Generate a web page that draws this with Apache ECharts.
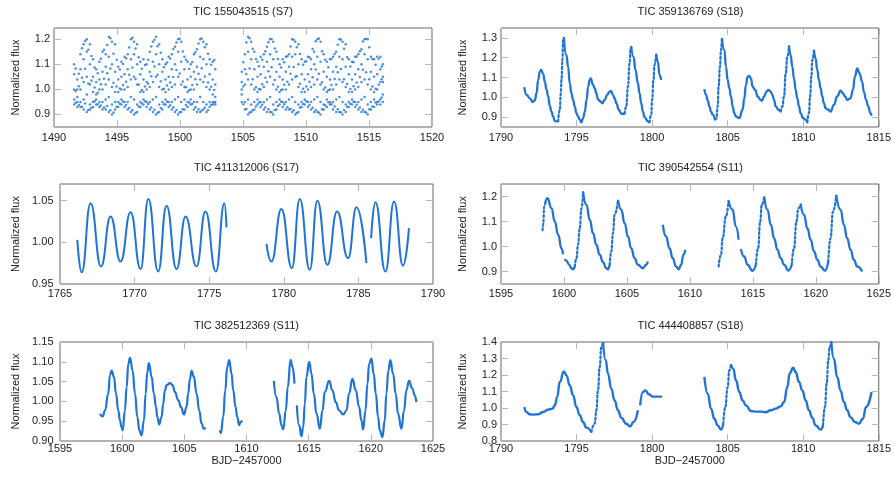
<!DOCTYPE html>
<html><head><meta charset="utf-8">
<script src="https://cdn.jsdelivr.net/npm/echarts@6.0.0/dist/echarts.min.js"></script>
<style>html,body{margin:0;padding:0;background:#fff;}#chart{width:894px;height:478px;}</style>
</head><body><div id="chart"></div>
<script>
// ---------- titles & tick labels ----------
const panelTitles = ['TIC 155043515 (S7)', 'TIC 359136769 (S18)', 'TIC 411312006 (S17)',
  'TIC 390542554 (S11)', 'TIC 382512369 (S11)', 'TIC 444408857 (S18)'];
const yTicks155 = [0.9, 1.0, 1.1, 1.2];
const yTicks359 = [0.9, 1.0, 1.1, 1.2, 1.3];
const yTicks411 = [0.95, 1.00, 1.05];
const yTicks390 = [0.9, 1.0, 1.1, 1.2];
const yTicks382 = [0.90, 0.95, 1.00, 1.05, 1.10, 1.15];
const yTicks444 = [0.8, 0.9, 1.0, 1.1, 1.2, 1.3, 1.4];
const xAxisName = 'BJD\u22122457000';
const yAxisName = 'Normalized flux';

// ---------- TIC 155043515: columns [time, flux, flux, ...] ----------
const tic155043515 = [
[1491.60,1.10,1.06,1.00,0.96,0.94],[1491.85,1.04,1.00,0.97,0.95,0.93],[1492.10,1.14,1.08,1.00,0.95,0.93],
[1492.35,1.18,1.12,1.03,0.96,0.92],[1492.60,1.20,1.15,1.05,0.98,0.91],[1492.85,1.18,1.10,1.02,0.94,0.92],
[1493.10,1.12,1.05,0.99,0.95,0.93],[1493.35,1.08,1.03,0.98,0.96,0.94],[1493.60,1.11,1.04,1.00,0.95,0.93],
[1493.85,1.15,1.07,1.00,0.95,0.92],[1494.10,1.14,1.09,1.02,0.96,0.92],[1494.35,1.21,1.13,1.04,0.97,0.91],
[1494.60,1.19,1.10,1.01,0.94,0.90],[1494.85,1.18,1.07,0.99,0.95,0.92],[1495.10,1.09,1.04,0.99,0.95,0.93],
[1495.35,1.11,1.05,1.00,0.96,0.94],[1495.60,1.13,1.06,1.00,0.95,0.93],[1495.85,1.14,1.08,1.01,0.95,0.92],
[1496.10,1.20,1.12,1.04,0.97,0.91],[1496.35,1.19,1.14,1.05,0.96,0.90],[1496.60,1.18,1.10,1.02,0.94,0.91],
[1496.85,1.11,1.06,0.99,0.95,0.93],[1497.10,1.12,1.04,0.99,0.96,0.94],[1497.35,1.10,1.03,1.00,0.95,0.93],
[1497.60,1.15,1.07,1.01,0.95,0.92],[1497.85,1.19,1.11,1.03,0.96,0.91],[1498.10,1.21,1.14,1.05,0.97,0.90],
[1498.35,1.18,1.10,1.01,0.94,0.91],[1498.60,1.12,1.07,1.00,0.95,0.92],[1498.85,1.10,1.04,0.99,0.96,0.94],
[1499.10,1.13,1.05,1.00,0.95,0.93],[1499.35,1.14,1.08,1.01,0.95,0.92],[1499.60,1.17,1.10,1.02,0.96,0.91],
[1499.85,1.20,1.15,1.05,0.97,0.90],[1500.10,1.19,1.11,1.02,0.95,0.91],[1500.35,1.13,1.08,1.01,0.96,0.92],
[1500.60,1.11,1.04,0.99,0.95,0.93],[1500.85,1.10,1.05,1.00,0.96,0.94],[1501.10,1.14,1.07,1.00,0.95,0.92],
[1501.35,1.16,1.09,1.02,0.95,0.91],[1501.60,1.20,1.13,1.04,0.97,0.91],[1501.85,1.19,1.12,1.03,0.95,0.92],
[1502.10,1.18,1.10,1.01,0.94,0.91],[1502.35,1.12,1.06,1.00,0.95,0.93],[1502.60,1.11,1.04,0.98,0.95,0.94],
[1502.80,1.08,1.02,0.97,0.95,0.94],
[1504.90,1.07,1.03,1.00,0.98,0.95],[1505.15,1.14,1.08,1.02,0.95,0.92],[1505.40,1.21,1.15,1.04,0.96,0.90],
[1505.65,1.19,1.12,1.02,0.94,0.91],[1505.90,1.15,1.08,1.00,0.95,0.92],[1506.15,1.11,1.05,0.99,0.96,0.94],
[1506.40,1.13,1.06,1.00,0.95,0.93],[1506.65,1.14,1.09,1.01,0.95,0.92],[1506.90,1.17,1.11,1.03,0.96,0.91],
[1507.15,1.20,1.14,1.05,0.97,0.91],[1507.40,1.19,1.12,1.02,0.94,0.90],[1507.65,1.15,1.07,1.00,0.95,0.92],
[1507.90,1.10,1.05,0.99,0.96,0.94],[1508.15,1.12,1.04,1.00,0.95,0.93],[1508.40,1.13,1.07,1.00,0.95,0.92],
[1508.65,1.14,1.09,1.02,0.96,0.92],[1508.90,1.20,1.13,1.04,0.97,0.91],[1509.15,1.19,1.14,1.05,0.95,0.90],
[1509.40,1.18,1.10,1.01,0.94,0.91],[1509.65,1.12,1.06,0.99,0.95,0.93],[1509.90,1.11,1.04,0.99,0.96,0.94],
[1510.15,1.13,1.06,1.00,0.95,0.93],[1510.40,1.12,1.08,1.01,0.95,0.92],[1510.65,1.15,1.10,1.02,0.96,0.91],
[1510.90,1.20,1.13,1.04,0.97,0.91],[1511.15,1.19,1.11,1.02,0.95,0.90],[1511.40,1.14,1.07,1.00,0.94,0.92],
[1511.65,1.11,1.05,0.99,0.96,0.93],[1511.90,1.12,1.04,1.00,0.95,0.94],[1512.15,1.13,1.07,1.00,0.95,0.92],
[1512.40,1.15,1.09,1.02,0.96,0.91],[1512.65,1.20,1.13,1.04,0.97,0.91],[1512.90,1.19,1.12,1.03,0.95,0.90],
[1513.15,1.18,1.09,1.01,0.94,0.91],[1513.40,1.12,1.06,0.99,0.95,0.93],[1513.65,1.11,1.04,0.99,0.96,0.94],
[1513.90,1.13,1.06,1.00,0.95,0.93],[1514.15,1.14,1.08,1.01,0.95,0.92],[1514.40,1.16,1.10,1.03,0.96,0.91],
[1514.65,1.20,1.14,1.04,0.97,0.91],[1514.90,1.20,1.12,1.02,0.94,0.90],[1515.15,1.13,1.07,1.00,0.95,0.92],
[1515.40,1.12,1.05,0.99,0.96,0.93],[1515.65,1.13,1.06,1.00,0.95,0.94],[1515.90,1.13,1.08,1.03,0.96,0.94],
[1516.10,1.10,1.05,1.03,0.98,0.95]
];
const tic155043515Mid = [
[1491.72,1.083,0.994,0.947],[1491.97,1.062,1.013,0.938],[1492.22,1.164,1.047,0.931],[1492.47,1.193,1.082,0.944],
[1492.72,1.158,1.024,0.918],[1492.97,1.133,1.036,0.927],[1493.22,1.087,1.008,0.953],[1493.47,1.064,0.987,0.941],
[1493.72,1.122,1.021,0.936],[1493.97,1.158,1.043,0.928],[1494.22,1.177,1.064,0.934],[1494.47,1.204,1.083,0.917],
[1494.72,1.142,1.027,0.908],[1494.97,1.118,1.012,0.931],[1495.22,1.079,1.004,0.943],[1495.47,1.101,1.018,0.952],
[1495.72,1.124,1.031,0.938],[1495.97,1.167,1.058,0.926],[1496.22,1.206,1.087,0.917],[1496.47,1.163,1.042,0.906],
[1496.72,1.128,1.019,0.932],[1496.97,1.082,0.998,0.944],[1497.22,1.097,1.012,0.953],[1497.47,1.118,1.023,0.942],
[1497.72,1.171,1.052,0.928],[1497.97,1.198,1.091,0.919],[1498.22,1.172,1.058,0.907],[1498.47,1.146,1.033,0.926],
[1498.72,1.088,1.003,0.941],[1498.97,1.107,1.016,0.951],[1499.22,1.123,1.028,0.937],[1499.47,1.161,1.049,0.929],
[1499.72,1.187,1.077,0.918],[1499.97,1.202,1.063,0.909],[1500.22,1.151,1.032,0.921],[1500.47,1.118,1.009,0.938],
[1500.72,1.081,0.997,0.948],[1500.97,1.109,1.018,0.942],[1501.22,1.148,1.041,0.929],[1501.47,1.183,1.062,0.921],
[1501.72,1.203,1.084,0.916],[1501.97,1.168,1.051,0.927],[1502.22,1.142,1.028,0.918],[1502.47,1.098,1.011,0.939],
[1502.72,1.117,0.998,0.948],
[1505.02,1.108,1.012,0.941],[1505.27,1.187,1.061,0.922],[1505.52,1.204,1.083,0.908],[1505.77,1.162,1.041,0.917],
[1506.02,1.121,1.009,0.932],[1506.27,1.092,1.002,0.948],[1506.52,1.118,1.021,0.939],[1506.77,1.152,1.047,0.928],
[1507.02,1.188,1.072,0.921],[1507.27,1.201,1.088,0.909],[1507.52,1.163,1.038,0.918],[1507.77,1.121,1.011,0.934],
[1508.02,1.087,0.998,0.951],[1508.27,1.108,1.019,0.941],[1508.52,1.132,1.031,0.929],[1508.77,1.171,1.062,0.922],
[1509.02,1.198,1.089,0.917],[1509.27,1.168,1.052,0.906],[1509.52,1.141,1.023,0.928],[1509.77,1.098,1.003,0.942],
[1510.02,1.112,1.012,0.953],[1510.27,1.128,1.031,0.938],[1510.52,1.161,1.048,0.927],[1510.77,1.192,1.079,0.918],
[1511.02,1.203,1.062,0.908],[1511.27,1.152,1.029,0.921],[1511.52,1.118,1.008,0.937],[1511.77,1.088,0.997,0.949],
[1512.02,1.121,1.018,0.941],[1512.27,1.141,1.042,0.932],[1512.52,1.178,1.068,0.921],[1512.77,1.199,1.081,0.909],
[1513.02,1.162,1.041,0.918],[1513.27,1.128,1.022,0.931],[1513.52,1.091,1.002,0.943],[1513.77,1.108,1.013,0.951],
[1514.02,1.131,1.028,0.939],[1514.27,1.152,1.049,0.928],[1514.52,1.191,1.078,0.919],[1514.77,1.202,1.068,0.908],
[1515.02,1.168,1.041,0.921],[1515.27,1.121,1.012,0.932],[1515.52,1.098,1.003,0.948],[1515.77,1.122,1.019,0.952],
[1516.00,1.091,1.041,0.968]
];

// ---------- TIC 359136769 segments [time, flux] ----------
const tic359136769a = [
[1791.54,1.051],[1791.69,1.012],[1791.91,0.995],[1792.09,0.976],[1792.24,0.985],[1792.35,1.02],[1792.46,1.088],
[1792.57,1.13],[1792.66,1.138],[1792.79,1.118],[1792.90,1.079],[1793.01,1.04],[1793.12,1.004],[1793.23,0.957],
[1793.34,0.928],[1793.45,0.903],[1793.56,0.880],[1793.78,0.878],[1793.89,0.937],[1793.96,1.02],[1794.00,1.088],
[1794.07,1.196],[1794.11,1.288],[1794.16,1.300],[1794.33,1.213],[1794.44,1.154],[1794.55,1.071],[1794.66,1.02],
[1794.77,0.987],[1794.88,0.954],[1794.99,0.92],[1795.10,0.903],[1795.21,0.887],[1795.32,0.873],[1795.43,0.895],
[1795.55,0.928],[1795.66,0.987],[1795.77,1.054],[1795.87,1.088],[1795.94,1.096],[1796.09,1.062],[1796.20,1.046],
[1796.31,1.02],[1796.42,0.99],[1796.58,0.979],[1796.71,0.97],[1796.86,0.987],[1797.02,1.012],[1797.19,1.029],
[1797.28,1.032],[1797.41,1.012],[1797.52,0.995],[1797.63,0.97],[1797.80,0.937],[1797.96,0.917],[1798.18,0.917],
[1798.29,0.954],[1798.40,1.054],[1798.51,1.171],[1798.57,1.246],[1798.62,1.255],[1798.77,1.205],[1798.90,1.138],
[1799.06,1.071],[1799.17,1.02],[1799.28,0.97],[1799.39,0.928],[1799.50,0.90],[1799.72,0.878],[1799.83,0.873],
[1799.94,0.912],[1800.00,0.987],[1800.09,1.088],[1800.16,1.163],[1800.27,1.221],[1800.38,1.18],[1800.49,1.113],
[1800.60,1.088]
];
const tic359136769b = [
[1803.46,1.041],[1803.57,1.012],[1803.68,0.984],[1803.79,0.954],[1803.90,0.928],[1804.01,0.912],[1804.16,0.887],
[1804.25,0.892],[1804.34,0.954],[1804.40,1.054],[1804.49,1.154],[1804.56,1.238],[1804.62,1.300],[1804.78,1.238],
[1804.89,1.154],[1805.00,1.088],[1805.11,1.046],[1805.22,1.004],[1805.33,0.954],[1805.44,0.92],[1805.55,0.903],
[1805.77,0.895],[1805.99,0.937],[1806.10,0.995],[1806.21,1.062],[1806.32,1.104],[1806.43,1.108],[1806.54,1.096],
[1806.65,1.054],[1806.82,1.037],[1806.98,1.004],[1807.19,0.987],[1807.26,0.982],[1807.41,1.004],[1807.57,1.029],
[1807.70,1.037],[1807.85,1.029],[1807.96,1.012],[1808.07,0.987],[1808.18,0.954],[1808.36,0.937],[1808.51,0.928],
[1808.62,0.954],[1808.73,1.004],[1808.84,1.121],[1808.95,1.205],[1809.06,1.258],[1809.17,1.213],[1809.28,1.154],
[1809.39,1.096],[1809.50,1.037],[1809.61,0.995],[1809.72,0.954],[1809.83,0.92],[1809.99,0.895],[1810.16,0.887],
[1810.27,0.873],[1810.38,0.92],[1810.45,1.004],[1810.54,1.104],[1810.60,1.188],[1810.71,1.238],[1810.82,1.196],
[1810.93,1.138],[1811.04,1.088],[1811.15,1.046],[1811.26,1.004],[1811.37,0.97],[1811.48,0.945],[1811.66,0.937],
[1811.81,0.928],[1812.03,0.962],[1812.25,1.004],[1812.47,1.034],[1812.63,1.02],[1812.76,1.004],[1812.91,0.987],
[1813.13,0.995],[1813.29,1.037],[1813.42,1.104],[1813.57,1.146],[1813.73,1.121],[1813.90,1.079],[1814.01,1.029],
[1814.16,0.987],[1814.30,0.954],[1814.45,0.92],[1814.52,0.907]
];
const tic359136769Rises = [[1793.78,1794.16],[1798.18,1798.62],[1799.83,1800.27],[1804.16,1804.62],[1808.51,1809.06],[1810.27,1810.71]];

// ---------- TIC 411312006 segments ----------
const tic411312006a = [
[1766.16,1.003],[1766.45,0.964],[1767.05,1.047],[1767.75,0.971],[1768.39,1.031],[1769.06,0.977],[1769.73,1.036],
[1770.40,0.968],[1770.92,1.052],[1771.58,0.965],[1772.14,1.044],[1772.81,0.968],[1773.42,1.031],[1774.15,0.971],
[1774.75,1.037],[1775.45,0.965],[1776.02,1.047],[1776.16,1.018]
];
const tic411312006b = [
[1778.84,0.998],[1779.17,0.977],[1779.84,1.040],[1780.54,0.969],[1781.07,1.052],[1781.74,0.967],[1782.25,1.050],
[1782.92,0.973],[1783.57,1.037],[1784.31,0.981],[1784.87,1.042],[1785.54,0.975]
];
const tic411312006c = [
[1785.85,1.005],[1786.14,1.048],[1786.81,0.965],[1787.39,1.049],[1787.99,0.972],[1788.39,1.017]
];

// ---------- TIC 390542554 segments ----------
const tic390542554a = [
[1598.30,1.065],[1598.35,1.087],[1598.43,1.160],[1598.51,1.173],[1598.69,1.193],[1599.01,1.153],[1599.27,1.100],
[1599.54,1.047],[1599.80,0.993],[1599.93,0.969]
];
const tic390542554b = [
[1600.05,0.950],[1600.20,0.943],[1600.41,0.927],[1600.59,0.913],[1600.73,0.909],[1600.86,0.920],[1600.99,0.953],
[1601.12,1.007],[1601.25,1.073],[1601.39,1.153],[1601.52,1.218],[1601.78,1.167],[1602.05,1.107],[1602.31,1.053],
[1602.57,1.007],[1602.84,0.967],[1603.10,0.937],[1603.36,0.913],[1603.50,0.909],[1603.63,0.927],[1603.76,0.980],
[1603.89,1.053],[1604.02,1.127],[1604.29,1.187],[1604.55,1.147],[1604.82,1.093],[1605.08,1.040],[1605.34,0.993],
[1605.61,0.953],[1605.87,0.927],[1606.27,0.913],[1606.53,0.927],[1606.66,0.940]
];
const tic390542554c = [
[1607.85,1.087],[1608.11,1.040],[1608.38,0.993],[1608.64,0.953],[1608.90,0.920],[1609.12,0.909],[1609.30,0.927],
[1609.49,0.967],[1609.64,0.987]
];
const tic390542554d = [
[1612.28,0.920],[1612.47,0.967],[1612.60,1.033],[1612.86,1.120],[1613.07,1.183],[1613.39,1.147],[1613.65,1.080],
[1613.87,1.027]
];
const tic390542554e = [
[1614.05,0.990],[1614.31,0.960],[1614.58,0.927],[1614.97,0.903],[1615.24,0.927],[1615.42,0.993],[1615.58,1.100],
[1615.71,1.167],[1615.90,1.200],[1616.16,1.147],[1616.43,1.087],[1616.69,1.033],[1616.95,0.987],[1617.22,0.953],
[1617.48,0.927],[1617.82,0.904],[1618.09,0.927],[1618.27,0.993],[1618.46,1.100],[1618.62,1.153],[1618.80,1.169],
[1619.06,1.127],[1619.33,1.073],[1619.59,1.027],[1619.86,0.980],[1620.12,0.947],[1620.38,0.920],[1620.73,0.903],
[1620.99,0.940],[1621.17,1.033],[1621.36,1.140],[1621.62,1.204],[1621.97,1.147],[1622.23,1.087],[1622.49,1.033],
[1622.76,0.987],[1623.02,0.947],[1623.29,0.920],[1623.68,0.900]
];
const tic390542554Rises = [[1598.30,1598.51],[1600.86,1601.52],[1603.63,1604.29],[1612.28,1613.07],[1615.24,1615.90],[1618.09,1618.80],[1620.99,1621.62]];

// ---------- TIC 382512369 segments ----------
const tic382512369a = [
[1598.22,0.969],[1598.43,0.962],[1598.62,0.977],[1598.88,1.020],[1599.02,1.066],[1599.15,1.078],[1599.34,1.062],
[1599.50,1.020],[1599.69,0.977],[1599.82,0.952],[1599.95,0.935],[1600.04,0.927],[1600.22,0.977],[1600.36,1.036],
[1600.49,1.095],[1600.63,1.110],[1600.84,1.078],[1601.03,1.020],[1601.22,0.961],[1601.38,0.927],[1601.56,0.914],
[1601.75,0.952],[1601.89,1.020],[1602.02,1.074],[1602.15,1.097],[1602.37,1.062],[1602.55,1.020],[1602.72,0.986],
[1602.82,0.961],[1602.98,0.942],[1603.17,0.961],[1603.30,0.994],[1603.44,1.028],[1603.57,1.041],[1603.84,1.046],
[1604.05,1.041],[1604.24,1.024],[1604.51,1.003],[1604.72,0.986],[1604.97,0.967],[1605.18,0.986],[1605.31,1.020],
[1605.45,1.057],[1605.58,1.077],[1605.77,1.062],[1605.98,1.020],[1606.20,0.977],[1606.39,0.944],[1606.57,0.931],
[1606.73,0.933]
];
const tic382512369b = [
[1607.86,0.927],[1607.94,0.920],[1608.13,0.961],[1608.29,1.028],[1608.45,1.087],[1608.61,1.104],[1608.80,1.070],
[1608.93,1.028],[1609.12,0.986],[1609.25,0.961],[1609.41,0.940],[1609.52,0.948],[1609.65,0.952]
];
const tic382512369c = [
[1612.20,1.052],[1612.41,1.011],[1612.63,0.969],[1612.81,0.940],[1612.95,0.929],[1613.16,0.977],[1613.32,1.036],
[1613.54,1.105],[1613.70,1.087],[1613.86,1.045]
];
const tic382512369d = [
[1614.05,0.990],[1614.23,0.940],[1614.42,0.912],[1614.56,0.935],[1614.69,0.994],[1614.82,1.062],[1615.04,1.100],
[1615.23,1.070],[1615.41,1.020],[1615.63,0.969],[1615.90,0.931],[1616.11,0.977],[1616.30,1.024],[1616.65,1.052],
[1616.91,1.028],[1617.18,0.998],[1617.45,0.977],[1617.77,0.967],[1618.04,0.977],[1618.25,1.020],[1618.52,1.057],
[1618.79,1.028],[1619.06,0.986],[1619.24,0.952],[1619.38,0.929],[1619.57,0.977],[1619.73,1.045],[1619.86,1.095],
[1620.05,1.108],[1620.23,1.070],[1620.40,1.020],[1620.58,0.961],[1620.72,0.927],[1620.93,0.910],[1621.12,0.952],
[1621.25,1.020],[1621.41,1.078],[1621.57,1.104],[1621.79,1.070],[1622.00,1.020],[1622.19,0.969],[1622.46,0.931],
[1622.67,0.977],[1622.86,1.028],[1623.07,1.052],[1623.34,1.032],[1623.53,1.015],[1623.66,0.998]
];

// ---------- TIC 444408857 segments ----------
const tic444408857a = [
[1791.54,1.006],[1791.69,0.976],[1791.87,0.962],[1792.13,0.960],[1792.46,0.962],[1792.79,0.976],[1793.12,0.990],
[1793.41,0.996],[1793.56,1.016],[1793.72,1.067],[1793.89,1.158],[1794.16,1.222],[1794.33,1.198],[1794.55,1.137],
[1794.77,1.077],[1794.99,1.006],[1795.21,0.956],[1795.43,0.915],[1795.65,0.881],[1795.98,0.855],[1796.20,0.905],
[1796.31,0.986],[1796.42,1.107],[1796.53,1.248],[1796.64,1.370],[1796.75,1.400],[1796.93,1.289],[1797.08,1.208],
[1797.30,1.117],[1797.52,1.046],[1797.74,0.986],[1797.96,0.941],[1798.29,0.905],[1798.55,0.889],[1798.77,0.915],
[1799.06,0.986]
];
const tic444408857b = [
[1799.21,1.016],[1799.39,1.097],[1799.56,1.107],[1799.78,1.083],[1800.05,1.069],[1800.66,1.069]
];
const tic444408857c = [
[1803.46,1.188],[1803.68,1.087],[1803.90,0.996],[1804.12,0.935],[1804.34,0.895],[1804.56,0.869],[1804.71,0.905],
[1804.84,1.006],[1805.00,1.127],[1805.11,1.228],[1805.22,1.265],[1805.37,1.238],[1805.55,1.168],[1805.77,1.097],
[1805.99,1.046],[1806.21,1.016],[1806.54,0.982],[1806.87,0.978],[1807.19,0.978],[1807.52,0.974],[1807.85,0.986],
[1808.18,0.996],[1808.51,1.010],[1808.73,1.036],[1808.95,1.127],[1809.10,1.210],[1809.33,1.244],[1809.50,1.218],
[1809.72,1.158],[1809.94,1.107],[1810.16,1.046],[1810.38,0.986],[1810.60,0.941],[1810.82,0.895],[1811.15,0.869],
[1811.31,0.895],[1811.44,1.006],[1811.55,1.147],[1811.66,1.289],[1811.75,1.370],[1811.86,1.400],[1812.03,1.299],
[1812.25,1.188],[1812.47,1.107],[1812.69,1.036],[1812.91,0.986],[1813.13,0.945],[1813.42,0.915],[1813.68,0.905],
[1813.95,0.935],[1814.16,1.006],[1814.52,1.097]
];
const tic444408857Rises = [[1795.98,1796.75],[1804.71,1805.22],[1811.31,1811.86]];

// ---------- layout / styling ----------
const FONT = '"Liberation Sans", Arial, Helvetica, sans-serif';
const TXT = '#222';
const BLUE = '#1f74d8';
const TICK = '#b8b8b8';
const FRAME = '#666';

const panels = [
  {left:54,  top:28,  w:378, h:99,  x:[1490,1520], y:[0.85,1.245], ticks:yTicks155, dec:1, lm:4,   xm:5, ng:33, lw:0,   scatter:[tic155043515, tic155043515Mid], segs:[], rises:[]},
  {left:501, top:28,  w:379, h:99,  x:[1790,1815], y:[0.85,1.35],  ticks:yTicks359, dec:1, lm:4,   xm:5, ng:33, lw:2.3, segs:[tic359136769a, tic359136769b], rises:tic359136769Rises},
  {left:60,  top:184, w:373, h:100, x:[1765,1790], y:[0.95,1.07],  ticks:yTicks411, dec:2, lm:6.5, xm:4, ng:39, lw:2.0, segs:[tic411312006a, tic411312006b, tic411312006c], rises:[]},
  {left:501, top:184, w:379, h:100, x:[1595,1625], y:[0.85,1.25],  ticks:yTicks390, dec:1, lm:4,   xm:4, ng:33, lw:2.3, segs:[tic390542554a, tic390542554b, tic390542554c, tic390542554d, tic390542554e], rises:tic390542554Rises},
  {left:60,  top:342, w:373, h:99,  x:[1595,1625], y:[0.90,1.15],  ticks:yTicks382, dec:2, lm:6.5, xm:2, ng:39, lw:2.2, segs:[tic382512369a, tic382512369b, tic382512369c, tic382512369d], rises:[], xname:true},
  {left:501, top:342, w:379, h:99,  x:[1790,1815], y:[0.80,1.40],  ticks:yTicks444, dec:1, lm:4,   xm:2, ng:33, lw:2.4, segs:[tic444408857a, tic444408857b, tic444408857c], rises:tic444408857Rises, xname:true}
];

// split a segment into runs: dense (solid) and fast-rising (sparse dots -> dotted)
function splitRuns(seg, rises) {
  const inRise = (a, b) => rises.some(r => a[0] >= r[0] - 1e-6 && b[0] <= r[1] + 1e-6);
  const runs = [];
  let cur = null;
  for (let k = 0; k < seg.length - 1; k++) {
    const sparse = inRise(seg[k], seg[k + 1]);
    if (!cur || cur.sparse !== sparse) { cur = {sparse, pts:[seg[k]]}; runs.push(cur); }
    cur.pts.push(seg[k + 1]);
  }
  return runs;
}

const grids = [], xAxes = [], yAxes = [], series = [], titles = [];
const lbl = {fontSize:11, color:TXT, fontFamily:FONT};
panels.forEach((p, i) => {
  grids.push({left:p.left, top:p.top, width:p.w, height:p.h, show:true, borderColor:FRAME, borderWidth:1, backgroundColor:'transparent', containLabel:false});
  titles.push({text:panelTitles[i], left:p.left + p.w/2, top:p.top - 22, textAlign:'center', padding:0,
    textStyle:{fontSize:11, fontWeight:'normal', color:TXT, fontFamily:FONT}});
  const tick = {show:true, inside:true, length:7, lineStyle:{color:TICK, width:1}};
  xAxes.push({type:'value', gridIndex:i, min:p.x[0], max:p.x[1], interval:5, position:'bottom',
    axisLine:{show:false}, splitLine:{show:false}, axisTick:tick,
    axisLabel:Object.assign({margin:p.xm, formatter:v => String(v), showMinLabel:true, showMaxLabel:true}, lbl),
    name:p.xname ? xAxisName : '', nameLocation:'middle', nameGap:14, nameTextStyle:lbl});
  xAxes.push({type:'value', gridIndex:i, min:p.x[0], max:p.x[1], interval:5, position:'top',
    axisLine:{show:false}, splitLine:{show:false}, axisTick:tick, axisLabel:{show:false}});
  yAxes.push({type:'value', gridIndex:i, min:p.y[0], max:p.y[1], position:'left',
    axisLine:{show:false}, splitLine:{show:false},
    axisTick:Object.assign({customValues:p.ticks}, tick),
    axisLabel:Object.assign({customValues:p.ticks, margin:p.lm, formatter:v => Number(v).toFixed(p.dec)}, lbl),
    name:yAxisName, nameLocation:'middle', nameGap:p.ng, nameRotate:90, nameTextStyle:lbl});
  yAxes.push({type:'value', gridIndex:i, min:p.y[0], max:p.y[1], position:'right',
    axisLine:{show:false}, splitLine:{show:false},
    axisTick:Object.assign({customValues:p.ticks}, tick),
    axisLabel:{show:false}});
  if (p.scatter) {
    const pts = [];
    p.scatter.forEach(tbl => tbl.forEach(r => { for (let k = 1; k < r.length; k++) pts.push([r[0], r[k]]); }));
    series.push({type:'scatter', xAxisIndex:2*i, yAxisIndex:2*i, data:pts, symbol:'circle', symbolSize:2.5,
      itemStyle:{color:BLUE}, silent:true, animation:false});
  }
  p.segs.forEach(seg => {
    splitRuns(seg, p.rises).forEach(run => {
      series.push({type:'line', xAxisIndex:2*i, yAxisIndex:2*i, data:run.pts, showSymbol:false, smooth:0.5,
        smoothMonotone:'x',
        lineStyle: run.sparse ? {color:BLUE, width:2.2, type:[2, 2.4], cap:'round'} : {color:BLUE, width:p.lw},
        silent:true, animation:false});
    });
  });
});

const chart = echarts.init(document.getElementById('chart'), null, {renderer:'canvas', devicePixelRatio:1});
chart.setOption({animation:false, backgroundColor:'#fff', title:titles, grid:grids, xAxis:xAxes, yAxis:yAxes, series:series});
</script>
</body></html>
